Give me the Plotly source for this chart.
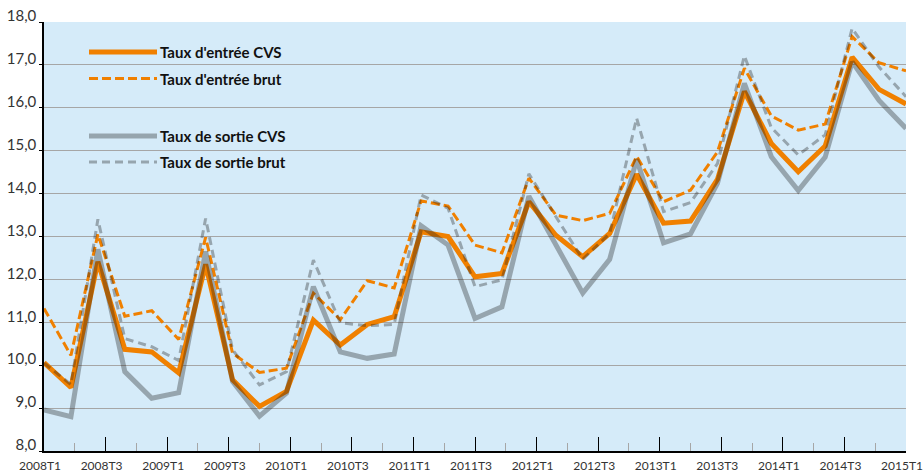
import plotly.graph_objects as go

# Quarterly calendar shown under the chart
trimestres = [
    "2008T1", "2008T2", "2008T3", "2008T4",
    "2009T1", "2009T2", "2009T3", "2009T4",
    "2010T1", "2010T2", "2010T3", "2010T4",
    "2011T1", "2011T2", "2011T3", "2011T4",
    "2012T1", "2012T2", "2012T3", "2012T4",
    "2013T1", "2013T2", "2013T3", "2013T4",
    "2014T1", "2014T2", "2014T3", "2014T4",
    "2015T1",
]

# Series (rates, %), one value per observation
entree_cvs = [10.06, 9.48, 12.41, 10.37, 10.31, 9.82, 12.35, 9.66, 9.04, 9.39,
              11.05, 10.47, 10.95, 11.13, 13.11, 13.00, 12.06, 12.14, 13.81, 13.03,
              12.53, 13.07, 14.45, 13.31, 13.36, 14.33, 16.38, 15.17, 14.51, 15.11,
              17.18, 16.43, 16.09]
entree_brut = [11.32, 10.23, 13.05, 11.14, 11.27, 10.60, 12.98, 10.28, 9.83, 9.93,
               11.68, 11.06, 11.97, 11.80, 13.83, 13.71, 12.80, 12.62, 14.36, 13.50,
               13.37, 13.54, 14.87, 13.81, 14.08, 14.97, 16.92, 15.81, 15.48, 15.62,
               17.66, 17.05, 16.86]
sortie_cvs = [8.96, 8.80, 12.70, 9.85, 9.23, 9.36, 12.65, 9.62, 8.81, 9.35,
              11.83, 10.31, 10.16, 10.26, 13.25, 12.80, 11.09, 11.36, 13.94, 12.80,
              11.68, 12.47, 14.80, 12.85, 13.06, 14.24, 16.57, 14.86, 14.07, 14.85,
              17.07, 16.17, 15.52]
sortie_brut = [10.05, 9.55, 13.40, 10.62, 10.43, 10.11, 13.42, 10.36, 9.54, 9.85,
               12.45, 10.99, 10.92, 10.95, 13.97, 13.66, 11.83, 11.99, 14.46, 13.45,
               12.47, 13.07, 15.76, 13.58, 13.79, 14.70, 17.21, 15.54, 14.90, 15.37,
               17.85, 16.95, 16.26]

noms = ["Taux d'entrée CVS", "Taux d'entrée brut", "Taux de sortie CVS", "Taux de sortie brut"]

ORANGE = "#f08000"
GRIS = "rgba(30,30,30,0.34)"
BG = "#d5ebf9"
FONT = "Lato"

obs = list(range(len(entree_cvs)))

fig = go.Figure()

# Empty trace so the quarter axis gets drawn
fig.add_trace(go.Scatter(
    x=list(range(len(trimestres))), y=[None] * len(trimestres),
    xaxis="x2", yaxis="y", mode="lines", showlegend=False, hoverinfo="skip",
))

styles = [
    (entree_cvs, ORANGE, 5, "solid"),
    (entree_brut, ORANGE, 3, "9px,4px"),
    (sortie_cvs, GRIS, 5, "solid"),
    (sortie_brut, GRIS, 3, "8px,5px"),
]
for nom, (vals, col, w, dash) in zip(noms, styles):
    fig.add_trace(go.Scatter(
        x=obs, y=vals, mode="lines", name=nom,
        line=dict(color=col, width=w, dash=dash),
        showlegend=False, hoverinfo="skip",
    ))

# Hand-drawn legend inside the plot area
L, R, T, B = 44, 17, 22, 23
W, H = 923, 474
pw, ph = W - L - R, H - T - B


def px_x(x):
    return (x - L) / pw


def px_y(y):
    return (H - B - y) / ph


rangs = [52, 78.5, 136, 162]
for nom, (vals, col, w, dash), yy in zip(noms, styles, rangs):
    fig.add_shape(type="line", xref="paper", yref="paper",
                  x0=px_x(89), x1=px_x(157), y0=px_y(yy), y1=px_y(yy),
                  line=dict(color=col, width=w, dash=dash))
    fig.add_annotation(xref="paper", yref="paper", x=px_x(158), y=px_y(yy),
                       text="<b>" + nom + "</b>", showarrow=False,
                       xanchor="left", yanchor="middle",
                       font=dict(family=FONT, size=15, color="#111111"))

fig.update_layout(
    width=W, height=H,
    margin=dict(l=L, r=R, t=T, b=B, pad=0, autoexpand=False),
    paper_bgcolor="white",
    plot_bgcolor=BG,
    separators=", ",
    font=dict(family=FONT, color="#333333"),
    xaxis=dict(range=[0, len(obs) - 1], visible=False, fixedrange=True,
               automargin=False),
    xaxis2=dict(
        overlaying="x", anchor="y", side="bottom",
        range=[0, len(trimestres) - 1],
        tickmode="array",
        tickvals=list(range(0, len(trimestres), 2)),
        ticktext=trimestres[::2],
        ticks="inside", ticklen=14, tickwidth=1.3, tickcolor="black",
        minor=dict(ticks="inside", ticklen=8, tickwidth=1, tickcolor="#a6a6a6",
                   tickmode="array", tickvals=list(range(1, len(trimestres), 2))),
        showgrid=False, zeroline=False,
        showline=True, linecolor="black", linewidth=1.5,
        tickfont=dict(family=FONT, size=12, color="#333333"),
        ticklabelstandoff=3,
        ticklabelshift=-4,
        ticklabeloverflow="allow",
        automargin=False,
    ),
    yaxis=dict(
        range=[8, 18], dtick=1, tick0=8, tickformat=".1f",
        showgrid=True, gridcolor="#a6a6a6", gridwidth=1,
        zeroline=False,
        showline=True, linecolor="black", linewidth=1.5,
        ticks="outside", ticklen=3, tickcolor="black",
        tickfont=dict(family=FONT, size=15, color="#333333"),
        ticklabelshift=-6,
        automargin=False,
    ),
)

fig.write_html("out.html")
